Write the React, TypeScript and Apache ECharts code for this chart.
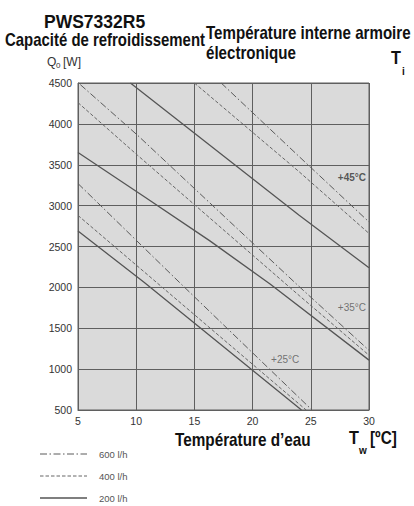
import React, { useEffect, useRef } from "react";
import * as echarts from "echarts";

// Water temperature Tw [°C] / cooling capacity Q0 [W]
const flowRates = ["600 l/h", "400 l/h", "200 l/h"];
const cabinetTemps = ["+45°C", "+35°C", "+25°C"];

const t45_600 = [[17.3, 4500], [24.0, 3600], [30, 2800]];
const t45_400 = [[15.0, 4500], [24.0, 3414], [30, 2660]];
const t45_200 = [[9.5, 4500], [13.75, 4027], [24.0, 2882], [30, 2240]];

const t35_600 = [[5.2, 4480], [10.1, 3863], [24.0, 2010], [30, 1230]];
const t35_400 = [[5, 4260], [10.1, 3618], [24.0, 1900], [30, 1170]];
const t35_200 = [[5, 3650], [10.7, 3108], [16.3, 2572], [21.5, 2042], [30, 1110]];

const t25_600 = [[5, 3270], [13.75, 2056], [25.1, 500]];
const t25_400 = [[5, 2880], [24.6, 500]];
const t25_200 = [[5, 2690], [10.7, 2060], [24.2, 500]];

const xTicks = [5, 10, 15, 20, 25, 30];
const yTicks = [500, 1000, 1500, 2000, 2500, 3000, 3500, 4000, 4500];

// temperature label anchors [Tw, Q0]
const labelPoints = [[30, 3347], [30, 1748], [22.8, 1112]];

const GRID = "#5f5f5f";
const LINE = "#555555";
const FONT = "'Liberation Sans', Arial, sans-serif";
const styles: Record<string, any> = {
  "600 l/h": { type: [7, 2.5, 1.5, 2.5], width: 1, color: "#5a5a5a" },
  "400 l/h": { type: [3.5, 2], width: 1, color: "#666666" },
  "200 l/h": { type: "solid", width: 1.3, color: LINE },
};

export default function App() {
  const ref = useRef<HTMLDivElement>(null);
  useEffect(() => {
    if (!ref.current) return;
    const chart = echarts.init(ref.current, undefined, { renderer: "svg" });
    const groups = [
      [t45_600, t45_400, t45_200],
      [t35_600, t35_400, t35_200],
      [t25_600, t25_400, t25_200],
    ];
    const lineSeries: any[] = [];
    groups.forEach((g, gi) => {
      g.forEach((d, fi) => {
        lineSeries.push({
          type: "line",
          name: `${cabinetTemps[gi]} ${flowRates[fi]}`,
          data: d,
          symbol: "none",
          silent: true,
          lineStyle: { ...styles[flowRates[fi]] },
          z: 3,
        });
      });
    });
    const labelSeries = {
      type: "scatter",
      symbolSize: 0,
      silent: true,
      z: 4,
      data: labelPoints.map((p, i) => ({
        value: p,
        label: {
          show: true,
          formatter: cabinetTemps[i],
          position: i === 2 ? "inside" : "left",
          distance: 3,
          fontSize: 10,
          fontFamily: FONT,
          fontWeight: i === 0 ? "bold" : "normal",
          color: i === 0 ? "#333" : "#555",
        },
      })),
    };
    const bigText = (text: string, x: number, y: number, sx = 0.83, size = 18) => ({
      type: "text",
      x,
      y,
      scaleX: sx,
      style: {
        text,
        fontSize: size,
        fontWeight: "bold",
        fontFamily: FONT,
        fill: "#111",
        textVerticalAlign: "middle",
        verticalAlign: "middle",
      },
    });
    const smallText = (text: string, x: number, y: number, size: number, color: string, weight = "normal") => ({
      type: "text",
      x,
      y,
      style: {
        text,
        fontSize: size,
        fontWeight: weight,
        fontFamily: FONT,
        fill: color,
        textVerticalAlign: "middle",
        verticalAlign: "middle",
      },
    });
    const legendY = [454, 476, 498];
    const legendItems: any[] = [];
    flowRates.forEach((f, i) => {
      const s = styles[f];
      legendItems.push({
        type: "line",
        shape: { x1: 40, y1: legendY[i], x2: 87, y2: legendY[i] },
        style: {
          stroke: s.color,
          lineWidth: s.width,
          lineDash: Array.isArray(s.type) ? s.type : null,
        },
      });
      legendItems.push(smallText(f, 99, legendY[i], 9.5, "#555"));
    });

    const axisLabel = {
      color: "#333",
      fontSize: 10.5,
      fontFamily: FONT,
      formatter: (v: number) => String(v),
    };

    chart.setOption({
      animation: false,
      backgroundColor: "#ffffff",
      grid: {
        left: 78,
        right: 45,
        top: 83,
        bottom: 96,
        show: true,
        backgroundColor: "#dadada",
        borderColor: GRID,
        borderWidth: 1,
      },
      xAxis: {
        type: "value",
        min: xTicks[0],
        max: xTicks[xTicks.length - 1],
        interval: 5,
        axisLine: { show: true, lineStyle: { color: GRID } },
        axisTick: { show: false },
        splitLine: { show: true, lineStyle: { color: GRID, width: 1 } },
        axisLabel: { ...axisLabel, margin: 5 },
      },
      yAxis: {
        type: "value",
        min: yTicks[0],
        max: yTicks[yTicks.length - 1],
        interval: 500,
        axisLine: { show: true, lineStyle: { color: GRID } },
        axisTick: { show: false },
        splitLine: { show: true, lineStyle: { color: GRID, width: 1 } },
        axisLabel: { ...axisLabel, margin: 6 },
      },
      series: [...lineSeries, labelSeries],
      graphic: [
        bigText("PWS7332R5", 44, 22, 1, 17.5),
        bigText("Capacité de refroidissement", 5, 40),
        bigText("Température interne armoire", 206, 33, 0.84),
        bigText("électronique", 206, 53, 0.84),
        bigText("T", 391, 58, 0.9),
        smallText("i", 402, 71, 10, "#111", "bold"),
        smallText("Q", 47, 62, 12, "#333"),
        smallText("0", 56, 65, 8, "#333"),
        smallText("[W]", 63, 62, 12, "#333"),
        bigText("Température d’eau", 175, 440, 0.85),
        bigText("T", 349, 438, 0.9),
        smallText("w", 359, 450, 10, "#111", "bold"),
        bigText("[ºC]", 370, 438, 0.85),
        ...legendItems,
      ],
    });
    return () => chart.dispose();
  }, []);
  return (
    <div
      ref={ref}
      style={{ position: "fixed", left: 0, top: 0, width: 414, height: 506, background: "#fff" }}
    />
  );
}
